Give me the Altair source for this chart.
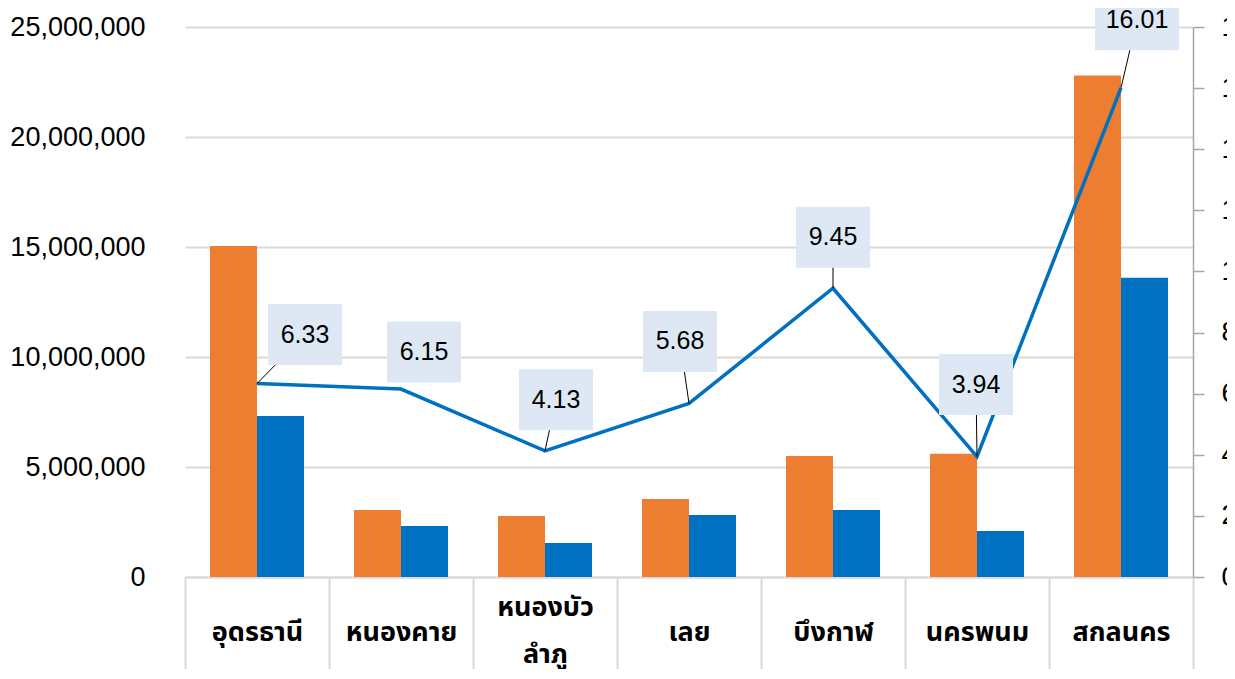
import altair as alt
import pandas as pd

# ---- data ----
provinces = ["อุดรธานี", "หนองคาย", "หนองบัวลำภู", "เลย", "บึงกาฬ", "นครพนม", "สกลนคร"]
series_orange = [15050000, 3050000, 2770000, 3550000, 5500000, 5600000, 22800000]
series_blue = [7320000, 2320000, 1550000, 2820000, 3050000, 2090000, 13600000]
ratio = [6.33, 6.15, 4.13, 5.68, 9.45, 3.94, 16.01]
ratio_text = ["6.33", "6.15", "4.13", "5.68", "9.45", "3.94", "16.01"]

# ---- label layout (pixel offsets of label boxes from their points) ----
label_dx = [48, 23, 11, -9, 0, -1, 16]
label_dy = [-49, -37, -51, -62, -51, -72, -68]
show_leader = [True, False, True, True, True, True, True]

W, H = 1008, 550
Y2_MAX = 18
STEP = W / len(provinces)
PX_UNIT = H / Y2_MAX
BOX_H = 61

NUM_FONT = "Liberation Sans"
THAI_FONT = "Noto Sans Thai, Noto Sans, Liberation Sans, sans-serif"

bar_df = pd.DataFrame({
    "province": provinces * 2,
    "series": ["a"] * len(provinces) + ["b"] * len(provinces),
    "value": series_orange + series_blue,
})

rows = []
for i, (r, t, dx, dy, sl) in enumerate(zip(ratio, ratio_text, label_dx, label_dy, show_leader)):
    lx = i + dx / STEP
    ly = r - dy / PX_UNIT
    bw = 34 + 10 * len(t)
    rows.append({
        "idx": i, "ratio": r, "label": t, "lx": lx, "ly": ly,
        "bx0": lx - bw / 2 / STEP, "bx1": lx + bw / 2 / STEP,
        "by0": ly - BOX_H / 2 / PX_UNIT, "by1": ly + BOX_H / 2 / PX_UNIT,
        "leader": sl,
    })
line_df = pd.DataFrame(rows)

two_line = "หนองบัวลำภู"

bars = alt.Chart(bar_df).mark_bar().encode(
    x=alt.X("province:N", sort=provinces,
            scale=alt.Scale(paddingInner=0, paddingOuter=0),
            axis=alt.Axis(title=None, labelAngle=0, labelFont=THAI_FONT, labelFontSize=27,
                          labelFontWeight="bold", labelColor="black",
                          domainColor="#d9d9d9", domainWidth=2,
                          tickColor="#d9d9d9", tickWidth=2, tickSize=102, tickBand="extent",
                          labelPadding={"condition": {"test": f"datum.value == '{two_line}'", "value": -72},
                                        "value": -47},
                          labelBaseline="middle", labelLineHeight=47,
                          labelExpr=f"datum.value == '{two_line}' ? ['หนองบัว', 'ลำภู'] : datum.value")),
    xOffset=alt.XOffset("series:N", scale=alt.Scale(domain=["a", "b"], paddingInner=0, paddingOuter=0.532)),
    y=alt.Y("value:Q", scale=alt.Scale(domain=[0, 25000000], nice=False),
            axis=alt.Axis(title=None, values=[0, 5000000, 10000000, 15000000, 20000000, 25000000],
                          format=",d", labelFont=NUM_FONT, labelFontSize=27, labelColor="black",
                          domain=False, ticks=False, grid=True, gridColor="#d9d9d9", gridWidth=2,
                          labelPadding=40)),
    color=alt.Color("series:N", scale=alt.Scale(domain=["a", "b"], range=["#ed7d31", "#0070c0"]),
                    legend=None),
)

x_scale = alt.Scale(domain=[-0.5, len(provinces) - 0.5], nice=False, zero=False)
y2_scale = alt.Scale(domain=[0, Y2_MAX], nice=False)
y2_axis = alt.Axis(title=None, orient="right", values=list(range(0, Y2_MAX + 1, 2)),
                   labelFont=NUM_FONT, labelFontSize=27, labelColor="black",
                   domainColor="#a6a6a6", domainWidth=1.5, tickColor="#a6a6a6",
                   tickWidth=1.5, tickSize=11, labelPadding=17, grid=False)

line = alt.Chart(line_df).mark_line(color="#0070c0", strokeWidth=3.5).encode(
    x=alt.X("idx:Q", scale=x_scale, axis=None),
    y=alt.Y("ratio:Q", scale=y2_scale, axis=y2_axis),
)

leaders = alt.Chart(line_df).transform_filter("datum.leader").mark_rule(color="black", strokeWidth=1).encode(
    x=alt.X("idx:Q", scale=x_scale, axis=None),
    x2="lx:Q",
    y=alt.Y("ratio:Q", scale=y2_scale, axis=y2_axis),
    y2="ly:Q",
)

boxes = alt.Chart(line_df).mark_rect(color="#dde8f4").encode(
    x=alt.X("bx0:Q", scale=x_scale, axis=None),
    x2="bx1:Q",
    y=alt.Y("by0:Q", scale=y2_scale, axis=y2_axis),
    y2="by1:Q",
)

texts = alt.Chart(line_df).mark_text(font=NUM_FONT, fontSize=25, color="black",
                                     align="center", baseline="middle").encode(
    x=alt.X("lx:Q", scale=x_scale, axis=None),
    y=alt.Y("ly:Q", scale=y2_scale, axis=y2_axis),
    text="label:N",
)

annot = alt.layer(line, leaders, boxes, texts)

chart = alt.layer(bars, annot).resolve_scale(
    x="independent", y="independent", xOffset="independent"
).properties(
    width=W, height=H,
    autosize=alt.AutoSizeParams(type="none"),
    padding={"left": 177, "top": 19, "right": 34, "bottom": 92},
    background="white",
).configure_view(stroke=None)

chart.save("out.html", embed_options={"renderer": "svg", "actions": False})
